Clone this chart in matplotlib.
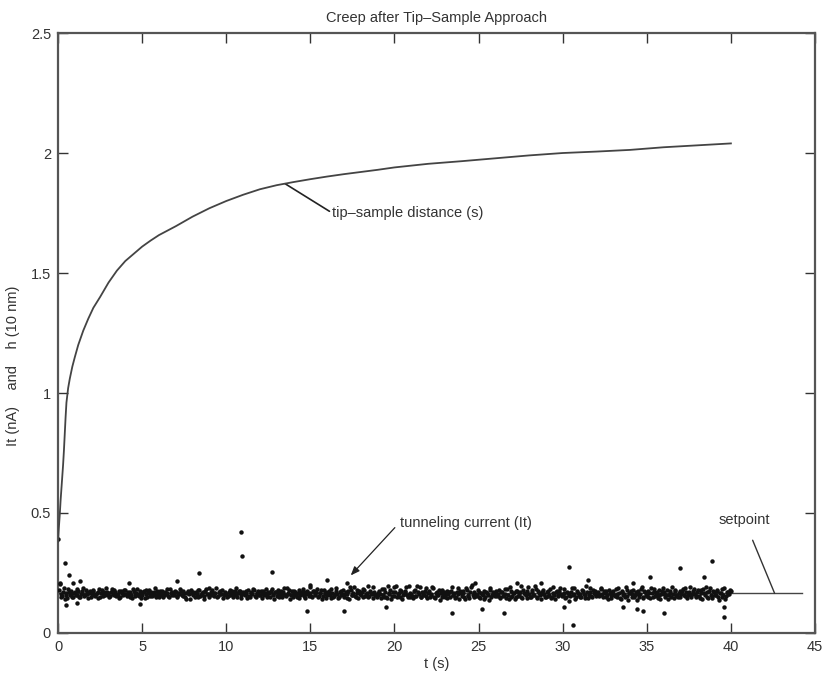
import numpy as np
import matplotlib
matplotlib.use("Agg")
import matplotlib.pyplot as plt

plt.rcParams['font.family'] = ['Liberation Sans', 'DejaVu Sans']

# tip-sample distance curve (t in s, h in 10 nm)
dist_t = [0.0, 0.05, 0.1, 0.15, 0.2, 0.25, 0.3, 0.35, 0.4, 0.45, 0.5, 0.6, 0.7, 0.85,
          1.0, 1.2, 1.5, 1.8, 2.1, 2.5, 3.0, 3.5, 4.0, 4.5, 5.0, 5.5, 6.0, 7.0, 8.0,
          9.0, 10.0, 11.0, 12.0, 13.0, 14.0, 15.0, 16.0, 17.0, 18.0, 19.0, 20.0,
          22.0, 24.0, 26.0, 28.0, 30.0, 32.0, 34.0, 36.0, 38.0, 40.0]
dist_h = [0.38, 0.44, 0.49, 0.55, 0.60, 0.65, 0.70, 0.76, 0.83, 0.90, 0.96, 1.02,
          1.06, 1.11, 1.15, 1.20, 1.26, 1.31, 1.355, 1.40, 1.46, 1.51, 1.55, 1.58,
          1.61, 1.635, 1.658, 1.695, 1.735, 1.77, 1.80, 1.826, 1.849, 1.866, 1.879,
          1.891, 1.902, 1.912, 1.921, 1.93, 1.94, 1.955, 1.966, 1.978, 1.99, 2.00,
          2.006, 2.013, 2.024, 2.032, 2.04]

# tunneling current samples every 0.1 s, 0 .. 40 s (in 0.001 nA)
current_a_milli = [
    390, 205, 150, 172, 140, 168, 183, 158, 163, 149,
    171, 160, 176, 152, 165, 188, 157, 169, 146, 174,
    162, 181, 155, 167, 170, 148, 178, 161, 159, 172,
    166, 153, 184, 160, 171, 157, 175, 150, 168, 163,
    179, 156, 164, 170, 146, 173, 161, 182, 154, 167,
    158, 175, 162, 149, 180, 165, 156, 171, 160, 176,
    152, 168, 174, 157, 163, 185, 150, 166, 172, 159,
    170, 148, 161, 177, 155, 168, 143, 174, 162, 180,
    157, 165, 171, 151, 178, 160, 169, 154, 183, 163,
    149, 172, 158, 166, 187, 153, 175, 161, 146, 170,
    164, 156, 181, 162, 150, 173, 159, 168, 176, 145,
    171, 158, 163, 179, 152, 167, 184, 155, 161, 174,
    160, 147, 176, 165, 157, 170, 151, 182, 163, 169,
    154, 178, 162, 148, 172, 159, 188, 166, 143, 175,
    161, 169, 152, 180, 158, 164, 171, 147, 177, 156,
    167, 150, 174, 160, 185, 153, 166, 142, 179, 162,
    158, 173, 146, 168, 155, 189, 161, 151, 176, 164,
    152, 170, 163, 141, 181, 157, 193, 148, 166, 174,
    160, 149, 178, 162, 195, 153, 168, 144, 171, 158,
    166, 175, 147, 159, 183, 151, 196, 163, 140, 172,
    155, 194, 161, 148, 177, 157, 169, 193, 150, 165,
    162, 145, 180, 156, 170, 192, 149, 163, 175, 153,
    168, 151, 159, 186, 146, 172, 160, 139, 178, 157,
    149, 174, 163, 152, 190, 158, 145, 169, 161, 176,
    156, 167, 142, 181, 153, 170, 198, 150, 164, 159,
    172, 144, 162, 175, 151, 166, 138, 180, 157, 168,
    160, 153, 179, 147, 171, 158, 164, 185, 141, 173,
    155, 168, 150, 176, 162, 196, 146, 167, 159, 174,
    163, 149, 171, 157, 182, 152, 166, 140, 178, 161,
    150, 175, 160, 145, 191, 158, 169, 153, 177, 164,
    157, 182, 148, 166, 135, 171, 159, 187, 152, 168,
    164, 151, 177, 160, 194, 146, 172, 156, 181, 162,
    153, 170, 158, 183, 149, 165, 176, 143, 168, 159,
    174, 155, 162, 188, 147, 171, 160, 152, 179, 137,
    166, 150, 181, 158, 139, 173, 161, 192, 148, 169,
    156, 177, 145, 165, 184, 153, 170, 159, 141, 175,
    162, 149, 180, 157, 168, 190, 146, 173, 155, 166,
    151, 176, 160, 186, 144, 171, 158, 164, 182, 148,
    169, 155, 178, 142, 165, 193, 152, 174, 160, 147,
    172, 158, 181, 136, 167, 150, 188, 154, 170, 163,
    175,
]

# interleaved samples at 0.05, 0.15, ... 39.95 s (in 0.001 nA)
current_b_milli = [
    178, 163, 155, 187, 160, 145, 170, 176, 152, 166,
    158, 182, 149, 164, 173, 156, 180, 162, 168, 151,
    175, 157, 163, 146, 182, 166, 154, 171, 187, 160,
    149, 170, 162, 178, 155, 164, 145, 173, 158, 181,
    163, 172, 150, 160, 185, 153, 168, 157, 176, 147,
    170, 146, 180, 166, 155, 172, 160, 189, 151, 164,
    177, 159, 148, 171, 165, 154, 182, 157, 162, 174,
    153, 168, 184, 158, 176, 149, 165, 171, 141, 167,
    172, 150, 163, 179, 156, 168, 143, 175, 161, 186,
    160, 178, 154, 167, 149, 171, 162, 181, 157, 165,
    150, 169, 158, 176, 164, 186, 152, 173, 160, 168,
    163, 174, 147, 156, 170, 161, 179, 148, 167, 157,
    176, 164, 159, 183, 150, 168, 174, 158, 140, 171,
    166, 152, 175, 161, 187, 155, 164, 178, 159, 150,
    173, 158, 166, 144, 170, 182, 153, 162, 168, 191,
    155, 177, 161, 172, 149, 165, 180, 156, 170, 146,
    169, 157, 183, 152, 164, 175, 146, 172, 160, 181,
    164, 147, 176, 192, 159, 168, 153, 178, 144, 162,
    172, 185, 156, 168, 150, 176, 162, 193, 157, 148,
    159, 163, 182, 150, 170, 144, 165, 178, 155, 191,
    170, 151, 166, 180, 143, 162, 175, 158, 195, 149,
    156, 176, 153, 194, 163, 148, 171, 157, 186, 145,
    177, 163, 190, 150, 168, 157, 181, 165, 152, 169,
    161, 146, 170, 177, 159, 165, 152, 188, 142, 167,
    174, 150, 187, 160, 147, 193, 158, 172, 153, 180,
    151, 168, 157, 141, 172, 160, 189, 149, 170, 156,
    176, 162, 148, 170, 154, 183, 146, 160, 192, 151,
    165, 143, 176, 155, 169, 150, 180, 163, 147, 190,
    152, 178, 160, 194, 146, 175, 157, 169, 163, 148,
    171, 156, 184, 151, 167, 140, 173, 158, 189, 155,
    168, 147, 170, 160, 153, 186, 162, 141, 174, 158,
    150, 179, 163, 145, 169, 157, 188, 152, 166, 175,
    167, 154, 189, 162, 176, 150, 159, 180, 147, 172,
    158, 183, 151, 166, 142, 177, 162, 190, 156, 168,
    177, 161, 149, 170, 163, 152, 184, 145, 175, 157,
    149, 165, 187, 151, 172, 160, 146, 178, 163, 189,
    171, 158, 143, 175, 152, 164, 181, 160, 148, 177,
    163, 185, 153, 169, 157, 191, 149, 173, 161, 154,
    178, 146, 167, 183, 158, 171, 145, 187, 156, 175,
    160, 176, 151, 166, 185, 157, 142, 172, 164, 180,
]

# isolated outlier samples of the current
spike_t = [0.1, 0.42, 0.5, 0.65, 0.9, 1.1, 1.3, 4.2, 4.9, 7.1, 8.4, 10.9, 10.95, 12.7,
           14.8, 15.0, 16.0, 17.0, 17.2, 19.5, 23.4, 24.8, 25.2, 26.5, 27.3, 28.7,
           30.1, 30.4, 30.6, 31.5, 33.6, 34.2, 34.4, 34.8, 35.2, 36.0, 37.0, 38.4,
           38.9, 39.6, 39.6]
spike_i = [0.21, 0.29, 0.115, 0.24, 0.21, 0.125, 0.215, 0.21, 0.12, 0.217, 0.25, 0.42,
           0.32, 0.255, 0.09, 0.20, 0.22, 0.09, 0.21, 0.108, 0.083, 0.21, 0.10, 0.083,
           0.21, 0.21, 0.11, 0.275, 0.033, 0.22, 0.11, 0.21, 0.10, 0.09, 0.235, 0.083,
           0.27, 0.235, 0.30, 0.067, 0.108]

setpoint = 0.165
setpoint_t = [0.0, 44.2]

x_ticks = [0, 5, 10, 15, 20, 25, 30, 35, 40, 45]
y_ticks = [0, 0.5, 1, 1.5, 2, 2.5]
y_tick_labels = ['0', '0.5', '1', '1.5', '2', '2.5']

fig = plt.figure(figsize=(8.22, 6.81), dpi=100)
ax = fig.add_axes([0.0706, 0.0705, 0.9209, 0.881])

ink = '#333333'
cur_a = np.array(current_a_milli) / 1000.0
cur_b = np.array(current_b_milli) / 1000.0
t_a = np.linspace(0, 40, len(cur_a))
t_b = np.linspace(0.05, 39.95, len(cur_b))

dot = dict(linestyle='none', marker='o', color='#111111', ms=3.2, mew=0, zorder=3)
ax.plot(setpoint_t, [setpoint, setpoint], color='#444444', lw=1.0, zorder=2)
ax.plot(t_a, cur_a, **dot)
ax.plot(t_b, cur_b, **dot)
ax.plot(spike_t, spike_i, **dot)
ax.plot(dist_t, dist_h, color='#444444', lw=1.3, zorder=4)

ax.set_xlim(0, 45)
ax.set_ylim(0, 2.5)
ax.set_xticks(x_ticks)
ax.set_xticklabels([str(v) for v in x_ticks])
ax.set_yticks(y_ticks)
ax.set_yticklabels(y_tick_labels)
ax.tick_params(direction='in', length=7, width=1.0, top=True, right=True,
               labelsize=10.5, colors=ink, pad=5)
for s in ax.spines.values():
    s.set_color('#555555')
    s.set_linewidth(1.6)

ax.set_title('Creep after Tip\u2013Sample Approach', fontsize=10.5, color=ink, pad=8)
ax.set_xlabel('t (s)', fontsize=10.5, color=ink, labelpad=2)
ax.set_ylabel('It (nA)    and    h (10 nm)', fontsize=10.5, color=ink)
ax.yaxis.set_label_coords(-0.05, 0.445)

ax.annotate('tip\u2013sample distance (s)', xy=(13.5, 1.872), xytext=(16.3, 1.75),
            fontsize=10.5, color=ink, va='center', ha='left',
            arrowprops=dict(arrowstyle='-', color='#222222', lw=1.2,
                            shrinkA=0, shrinkB=0, relpos=(0, 0.5)))
ax.annotate('tunneling current (It)', xy=(17.4, 0.24), xytext=(20.3, 0.46),
            fontsize=10.5, color=ink, va='center', ha='left',
            arrowprops=dict(arrowstyle='-|>,head_length=0.5,head_width=0.2',
                            color='#222222', lw=0.9, shrinkA=2, shrinkB=0,
                            relpos=(0, 0.5)))
ax.annotate('setpoint', xy=(42.6, setpoint), xytext=(40.8, 0.47),
            fontsize=10.5, color=ink, va='center', ha='center',
            arrowprops=dict(arrowstyle='-', color='#333333', lw=1.0,
                            shrinkA=8, shrinkB=0))

fig.savefig('out.png', dpi=100)
